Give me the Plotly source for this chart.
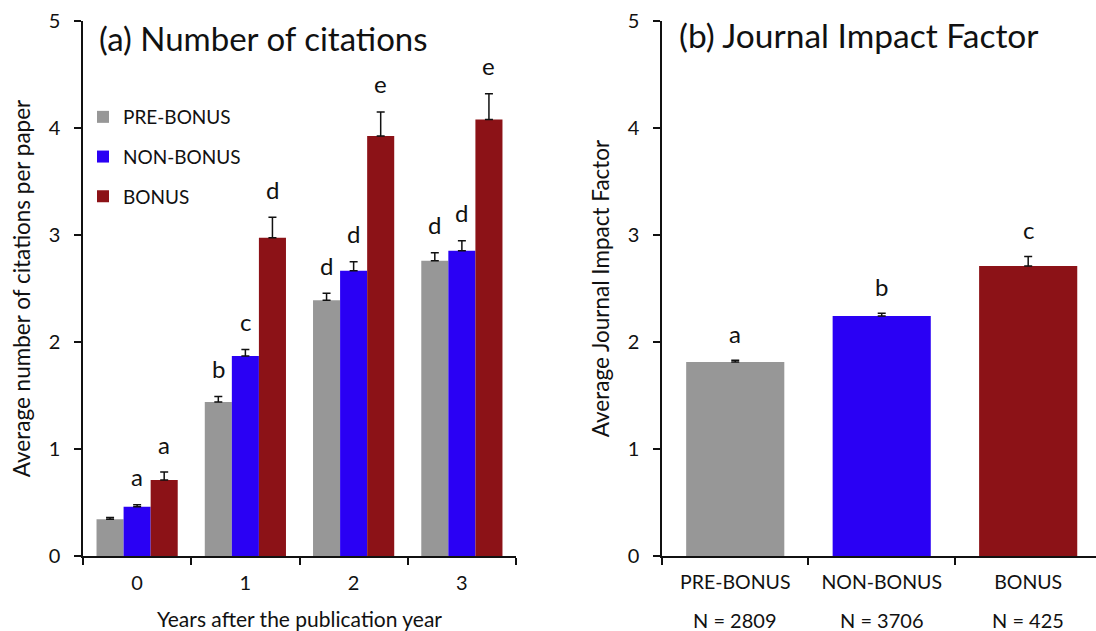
import plotly.graph_objects as go

# ---------------- data ----------------
years = ["0", "1", "2", "3"]
series_names = ["PRE-BONUS", "NON-BONUS", "BONUS"]
pre_vals = [0.343, 1.44, 2.39, 2.76]
pre_err = [0.017, 0.05, 0.065, 0.075]
non_vals = [0.46, 1.87, 2.667, 2.853]
non_err = [0.02, 0.06, 0.083, 0.094]
bonus_vals = [0.71, 2.975, 3.925, 4.08]
bonus_err = [0.075, 0.19, 0.225, 0.24]
pre_letters = ["", "b", "d", "d"]
non_letters = ["a", "c", "d", "d"]
bonus_letters = ["a", "d", "e", "e"]

jif_groups = ["PRE-BONUS", "NON-BONUS", "BONUS"]
jif_vals = [1.813, 2.243, 2.71]
jif_err = [0.017, 0.025, 0.09]
jif_letters = ["a", "b", "c"]
jif_n = [2809, 3706, 425]

y_ticks = [0, 1, 2, 3, 4, 5]

# ---------------- style ----------------
FONT = "Lato"
INK = "#111111"
colors = ["#979797", "#2a00f4", "#8c1217"]
W, H = 1096, 631
ML, MR, MT, MB = 83, 0, 21, 75
PW = W - ML - MR
PH = H - MT - MB

fig = go.Figure()

vals = [pre_vals, non_vals, bonus_vals]
errs = [pre_err, non_err, bonus_err]
letters = [pre_letters, non_letters, bonus_letters]
for j, name in enumerate(series_names):
    fig.add_trace(go.Bar(
        x=years, y=vals[j], name=name, legendgroup=name,
        marker=dict(color=colors[j], line=dict(width=0)),
        error_y=dict(type="data", array=errs[j], symmetric=False,
                     arrayminus=[0] * len(years), color=INK,
                     thickness=1.5, width=4),
        xaxis="x", yaxis="y",
    ))

fig.add_trace(go.Bar(
    x=jif_groups, y=jif_vals, width=0.67, showlegend=False,
    marker=dict(color=colors, line=dict(width=0)),
    error_y=dict(type="data", array=jif_err, symmetric=False,
                 arrayminus=[0] * len(jif_groups), color=INK,
                 thickness=1.5, width=4),
    xaxis="x2", yaxis="y2",
))

annotations = []
offsets = [-0.25, 0.0, 0.25]
for j in range(3):
    for i in range(len(years)):
        if letters[j][i]:
            annotations.append(dict(
                x=i + offsets[j], y=vals[j][i] + errs[j][i], xref="x", yref="y",
                text=letters[j][i], showarrow=False, yanchor="middle", yshift=28,
                font=dict(family=FONT, size=24, color=INK)))
for i in range(len(jif_groups)):
    annotations.append(dict(
        x=i, y=jif_vals[i] + jif_err[i], xref="x2", yref="y2",
        text=jif_letters[i], showarrow=False, yanchor="middle", yshift=27,
        font=dict(family=FONT, size=24, color=INK)))
    annotations.append(dict(
        x=i, y=0, xref="x2", yref="y2", text=f"N = {jif_n[i]}",
        showarrow=False, yanchor="middle", yshift=-64,
        font=dict(family=FONT, size=20, color=INK)))

annotations.append(dict(x=(97 - ML) / PW, y=1 - (38 - MT) / PH,
                        xref="paper", yref="paper", xanchor="left", yanchor="middle",
                        text="(a) Number of citations", showarrow=False,
                        font=dict(family=FONT, size=33, color=INK)))
annotations.append(dict(x=(677 - ML) / PW, y=1 - (35 - MT) / PH,
                        xref="paper", yref="paper", xanchor="left", yanchor="middle",
                        text="(b) Journal Impact Factor", showarrow=False,
                        font=dict(family=FONT, size=33.5, color=INK)))

axis_common = dict(showline=True, linecolor=INK, linewidth=1.5,
                   ticks="outside", ticklen=7, tickwidth=1.5, tickcolor=INK,
                   showgrid=False, zeroline=False)

fig.update_layout(
    width=W, height=H,
    margin=dict(l=ML, r=MR, t=MT, b=MB, autoexpand=False),
    paper_bgcolor="white", plot_bgcolor="white",
    barmode="group", bargap=0.25, bargroupgap=0,
    font=dict(family=FONT, size=19, color=INK),
    xaxis=dict(domain=[0, (516 - ML) / PW], type="category", range=[-0.5, 3.5],
               tickson="boundaries", ticklabelstandoff=8,
               tickfont=dict(family=FONT, size=20, color=INK),
               title=dict(text="Years after the publication year", standoff=21,
                          font=dict(family=FONT, size=21, color=INK)),
               anchor="y", **axis_common),
    yaxis=dict(domain=[0, 1], range=[0, 5], tickvals=y_ticks, ticklabelstandoff=10,
               tickfont=dict(family=FONT, size=20, color=INK),
               title=dict(text="Average number of citations per paper", standoff=12,
                          font=dict(family=FONT, size=22.5, color=INK)),
               anchor="x", **axis_common),
    xaxis2=dict(domain=[(662 - ML) / PW, 1], type="category",
                range=[-0.5, 2.463], tickson="boundaries", ticklabelstandoff=8,
                tickfont=dict(family=FONT, size=19.5, color=INK),
                anchor="y2", **axis_common),
    yaxis2=dict(domain=[0, 1], range=[0, 5], tickvals=y_ticks, ticklabelstandoff=10,
                tickfont=dict(family=FONT, size=20, color=INK),
                title=dict(text="Average Journal Impact Factor", standoff=12,
                           font=dict(family=FONT, size=22.5, color=INK)),
                anchor="x2", **axis_common),
    legend=dict(x=0.0, y=1 - (98 - MT) / PH, xanchor="left", yanchor="top",
                font=dict(family=FONT, size=19, color=INK),
                tracegroupgap=12, bgcolor="rgba(0,0,0,0)"),
    annotations=annotations,
    showlegend=True,
)

fig.write_html("out.html", config={"displayModeBar": False},
               post_script="document.body.style.margin='0px';document.body.style.overflow='hidden';")
